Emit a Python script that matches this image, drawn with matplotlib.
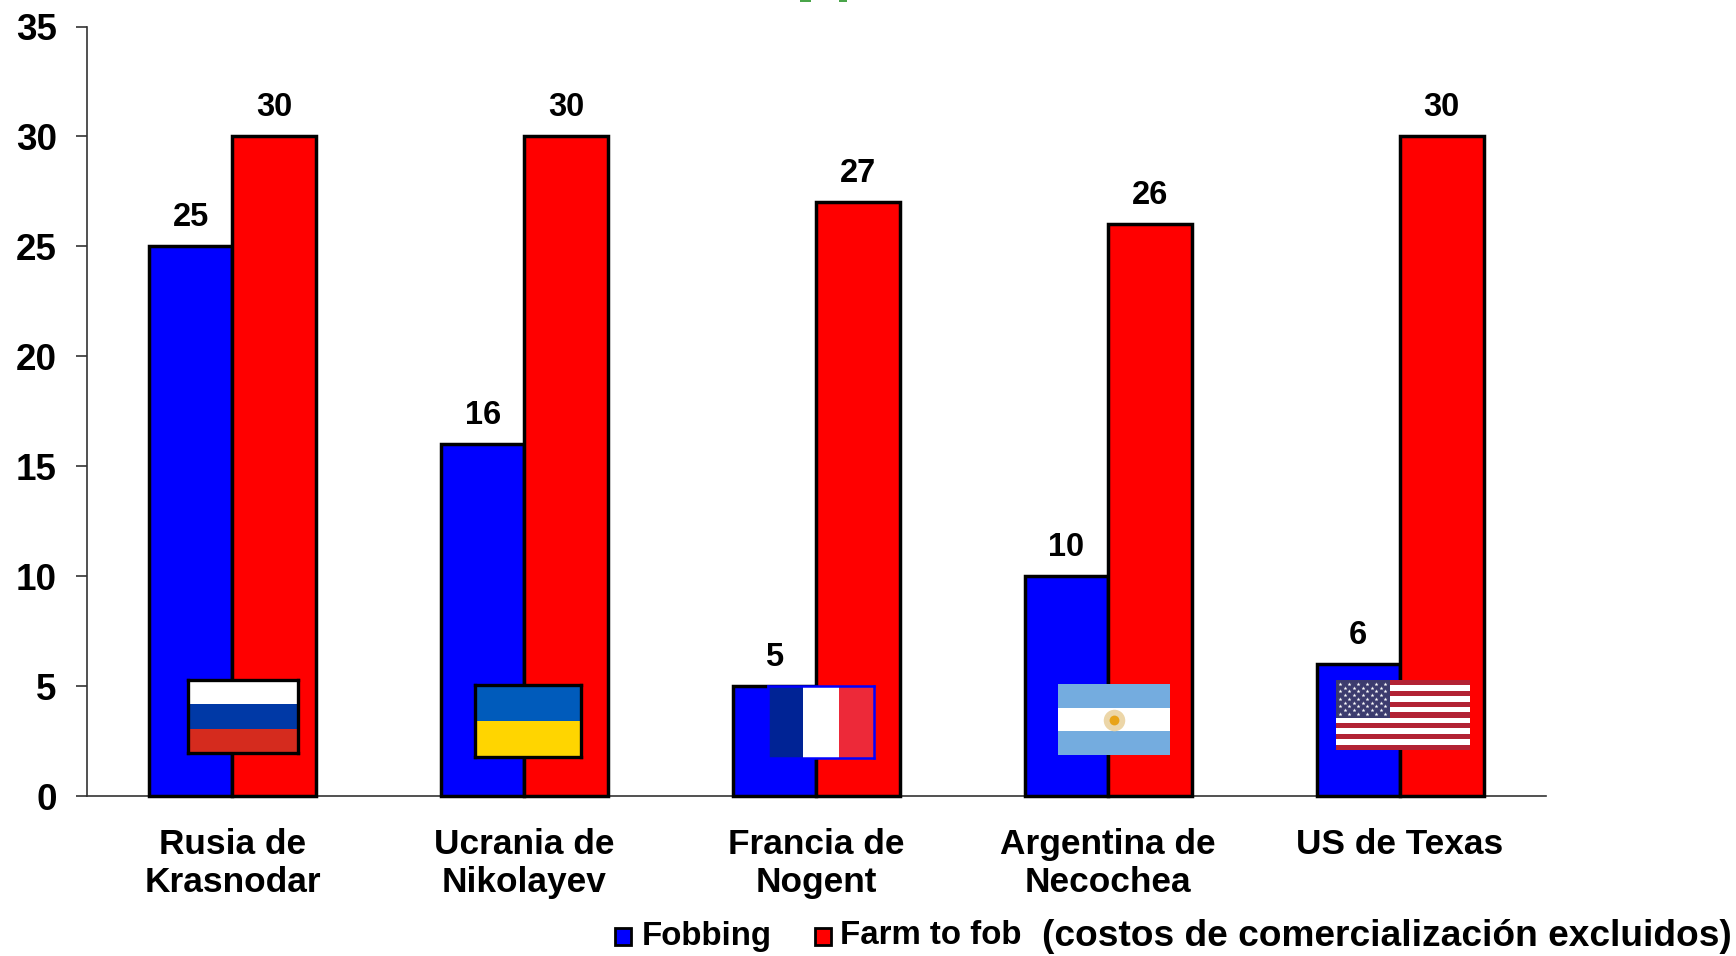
import matplotlib as mpl
mpl.use("Agg")
import matplotlib.pyplot as plt
from matplotlib.patches import Rectangle

W, H = 1736, 956

CATEGORIES = ["Rusia de\nKrasnodar", "Ucrania de\nNikolayev", "Francia de\nNogent",
              "Argentina de\nNecochea", "US de Texas"]
FOBBING = [25, 16, 5, 10, 6]
FARM_TO_FOB = [30, 30, 27, 26, 30]
YTICKS = [0, 5, 10, 15, 20, 25, 30, 35]

BLUE = "#0000ff"
RED = "#ff0000"
BAR_W = 0.286

mpl.rcParams.update({
    "font.family": "Liberation Sans",
    "font.weight": "bold",
    "font.size": 23,
})


def flag_axes(x0, y0, x1, y1):
    # pixel box, y measured from the top of the picture
    a = fig.add_axes([x0 / W, 1 - y1 / H, (x1 - x0) / W, (y1 - y0) / H], zorder=5)
    a.set_xlim(0, 1)
    a.set_ylim(0, 1)
    a.set_xticks([])
    a.set_yticks([])
    return a


def borders(a, color, lw=2.4):
    for s in a.spines.values():
        s.set_edgecolor(color)
        s.set_linewidth(lw)


def stripes_h(a, colors):
    n = len(colors)
    for i, c in enumerate(colors):
        a.add_patch(Rectangle((0, 1 - (i + 1) / n), 1, 1 / n, fc=c, ec="none"))


fig = plt.figure(figsize=(W / 100, H / 100), dpi=100)
ax = fig.add_axes([86.5 / W, 1 - 796 / H, (1546 - 86.5) / W, (796 - 26.5) / H])

xs = list(range(len(CATEGORIES)))
bars1 = ax.bar([x - BAR_W / 2 for x in xs], FOBBING, BAR_W, color=BLUE,
               edgecolor="black", linewidth=2.5, label="Fobbing", zorder=3, clip_on=False)
bars2 = ax.bar([x + BAR_W / 2 for x in xs], FARM_TO_FOB, BAR_W, color=RED,
               edgecolor="black", linewidth=2.5, label="Farm to fob", zorder=3, clip_on=False)

for b, v in list(zip(bars1, FOBBING)) + list(zip(bars2, FARM_TO_FOB)):
    ax.annotate(str(v), (b.get_x() + b.get_width() / 2, v), xytext=(0, 9.5),
                textcoords="offset points", ha="center", va="bottom", fontsize=23.5)

ax.set_xlim(-0.5, 4.5)
ax.set_ylim(0, 35)
ax.set_yticks(YTICKS)
ax.set_xticks(xs)
ax.set_xticklabels(CATEGORIES, fontsize=25.4, linespacing=1.2)
ax.tick_params(axis="x", length=0, pad=23)
ax.tick_params(axis="y", direction="out", length=8, width=1.2, pad=13.5, color="#333333", labelsize=26.5)
ax.spines["top"].set_visible(False)
ax.spines["right"].set_visible(False)
ax.spines["left"].set_color("#333333")
ax.spines["bottom"].set_color("#333333")
ax.spines["left"].set_linewidth(1.2)
ax.spines["bottom"].set_linewidth(1.2)

# flags
a = flag_axes(188, 680, 298, 753)
stripes_h(a, ["#ffffff", "#0039a6", "#d52b1e"])
borders(a, "black")

a = flag_axes(475, 685, 581, 757)
stripes_h(a, ["#005bbb", "#ffd500"])
borders(a, "black")

a = flag_axes(768, 686, 874, 758)
for i, c in enumerate(["#002395", "#ffffff", "#ed2939"]):
    a.add_patch(Rectangle((i / 3, 0), 1 / 3, 1, fc=c, ec="none"))
borders(a, BLUE, 1.8)

a = flag_axes(1058, 684, 1170, 755)
stripes_h(a, ["#74acdf", "#ffffff", "#74acdf"])
a.scatter([0.5], [0.5], s=240, color="#ecd6a8", linewidths=0, zorder=3)
a.scatter([0.5], [0.5], s=50, color="#e8a317", linewidths=0, zorder=4)
borders(a, "none", 0)

a = flag_axes(1336, 680, 1470, 750)
stripes_h(a, ["#b22234", "#ffffff"] * 6 + ["#b22234"])
a.add_patch(Rectangle((0, 6 / 13), 0.4, 7 / 13, fc="#3c3b6e", ec="none", zorder=3))
for row in range(9):
    n = 6 if row % 2 == 0 else 5
    for k in range(n):
        a.scatter([(k + (0.5 if row % 2 == 0 else 1)) * 0.4 / 6],
                  [1 - (row + 1) * (7 / 13) / 10], s=9, marker="*", color="white",
                  linewidths=0, zorder=4)
borders(a, "none", 0)

# legend, drawn by hand to sit where the original does
for x0, col, lab, tx in [(615, BLUE, "Fobbing", 642), (815, RED, "Farm to fob", 840)]:
    fig.patches.append(Rectangle((x0 / W, 1 - 945 / H), 16 / W, 17 / H, transform=fig.transFigure,
                                 fc=col, ec="black", lw=2))
    fig.text(tx / W, 1 - 936 / H, lab, fontsize=23.8, ha="left", va="center")
fig.text(1042 / W, 1 - 936 / H, "(costos de comercialización excluidos)", fontsize=26.7,
         ha="left", va="center")

# bottom edge of the cut off green title
for x0, x1 in [(800, 811), (839, 847)]:
    fig.patches.append(Rectangle((x0 / W, 1 - 2 / H), (x1 - x0) / W, 2 / H, transform=fig.transFigure,
                                 fc="#4aa54a", ec="none"))

plt.savefig("out.png", dpi=100, facecolor="white")
